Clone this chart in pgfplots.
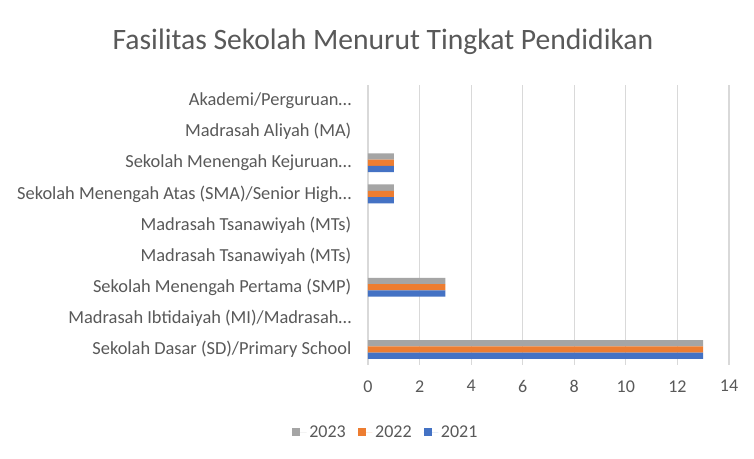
\documentclass[border=0pt]{standalone}
\usepackage{pgfplots}
\pgfplotsset{compat=1.18}
\usepackage{fontspec}
\setmainfont{Carlito}
\definecolor{cgray}{HTML}{A5A5A5}
\definecolor{corange}{HTML}{ED7D31}
\definecolor{cblue}{HTML}{4472C4}
\definecolor{ctext}{HTML}{595959}
\definecolor{cgrid}{HTML}{D9D9D9}
\begin{document}
\begin{tikzpicture}
\path[fill=white,use as bounding box] (0pt,0pt) rectangle (565.5pt,-344.25pt);
\node[text=ctext,font=\fontsize{22.2}{25}\selectfont] at (287.25pt,-31.5pt) {Fasilitas Sekolah Menurut Tingkat Pendidikan};
\begin{axis}[
  at={(276pt,-273.75pt)}, anchor=south west,
  scale only axis, width=270.75pt, height=210pt,
  xbar, bar width=4.7pt,
  xmin=0, xmax=14, ymin=-0.5, ymax=8.5,
  xtick={0,2,...,14},
  ytick={0,...,8},
  yticklabels={Sekolah Dasar (SD)/Primary School,Madrasah Ibtidaiyah (MI)/Madrasah…,Sekolah Menengah Pertama (SMP),Madrasah Tsanawiyah (MTs),Madrasah Tsanawiyah (MTs),Sekolah Menengah Atas (SMA)/Senior High…,Sekolah Menengah Kejuruan…,Madrasah Aliyah (MA),Akademi/Perguruan…},
  axis line style={draw=none},
  xmajorgrids, grid style={cgrid,line width=0.8pt},
  major tick length=0pt,
  tick label style={text=ctext},
  /pgf/number format/assume math mode=true,
  xticklabel style={yshift=-8pt,font=\fontsize{13.5}{15}\selectfont},
  yticklabel style={xshift=-9pt,font=\fontsize{13.8}{16}\selectfont},
  legend columns=3,
  legend style={draw=none,fill=none,at={(0.05,-0.24)},anchor=center,font=\fontsize{13.5}{15}\selectfont,text=ctext,/tikz/every even column/.append style={column sep=7pt}},
  legend image code/.code={\fill[#1,draw=none] (0pt,-3pt) rectangle (6pt,3pt); \path (0pt,0pt) -- (11pt,0pt);},
  x filter/.expression={x==0 ? nan : x},
]
\addplot[fill=cgray,draw=none,bar shift=4.7pt] coordinates {(13,0) (0,1) (3,2) (0,3) (0,4) (1,5) (1,6) (0,7) (0,8)};
\addplot[fill=corange,draw=none,bar shift=0pt] coordinates {(13,0) (0,1) (3,2) (0,3) (0,4) (1,5) (1,6) (0,7) (0,8)};
\addplot[fill=cblue,draw=none,bar shift=-4.7pt] coordinates {(13,0) (0,1) (3,2) (0,3) (0,4) (1,5) (1,6) (0,7) (0,8)};
\legend{2023,2022,2021}
\end{axis}
\end{tikzpicture}
\end{document}
